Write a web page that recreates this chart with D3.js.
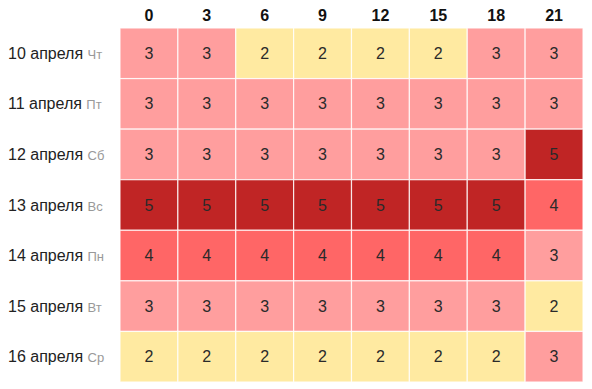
<!DOCTYPE html>
<html>
<head>
<meta charset="utf-8">
<script src="https://cdn.jsdelivr.net/npm/d3@7"></script>
<style>
  body { margin: 0; background: #fff; }
  text { font-family: "Liberation Sans", Arial, sans-serif; }
</style>
</head>
<body>
<svg id="chart" width="592" height="389"></svg>
<script>
// Données
const hours = ['0', '3', '6', '9', '12', '15', '18', '21']
const dates = ['10 апреля', '11 апреля', '12 апреля', '13 апреля', '14 апреля', '15 апреля', '16 апреля']
const weekdays = ['Чт', 'Пт', 'Сб', 'Вс', 'Пн', 'Вт', 'Ср']
const values = [
  [3, 3, 2, 2, 2, 2, 3, 3],
  [3, 3, 3, 3, 3, 3, 3, 3],
  [3, 3, 3, 3, 3, 3, 3, 5],
  [5, 5, 5, 5, 5, 5, 5, 4],
  [4, 4, 4, 4, 4, 4, 4, 3],
  [3, 3, 3, 3, 3, 3, 3, 2],
  [2, 2, 2, 2, 2, 2, 2, 3]
]
const levels = [2, 3, 4, 5]
const levelColors = ['#ffeaa1', '#ff9e9e', '#ff6666', '#c02525']

const svg = d3.select('#chart')

const x = d3.scaleBand().domain(hours).range([120, 583])
const y = d3.scaleBand().domain(dates).range([28, 382])
const color = d3.scaleOrdinal().domain(levels).range(levelColors)

//Cellules
const cells = []
values.forEach((row, i) => row.forEach((v, j) => cells.push({ date: dates[i], hour: hours[j], v })))

const g = svg.append('g')
g.selectAll('rect')
  .data(cells)
  .enter()
  .append('rect')
  .attr('x', d => x(d.hour))
  .attr('y', d => y(d.date))
  .attr('width', x.bandwidth())
  .attr('height', y.bandwidth())
  .attr('fill', d => color(d.v))
  .attr('stroke', '#fff')
  .attr('stroke-opacity', 0.8)
  .attr('stroke-width', 1.2)

g.selectAll('text.val')
  .data(cells)
  .enter()
  .append('text')
  .attr('class', 'val')
  .attr('x', d => x(d.hour) + x.bandwidth() / 2)
  .attr('y', d => y(d.date) + y.bandwidth() / 2)
  .attr('dy', '0.35em')
  .attr('text-anchor', 'middle')
  .attr('font-size', 16)
  .attr('fill', '#2a2a2a')
  .text(d => d.v)

//Titres des colonnes
svg.selectAll('text.hour')
  .data(hours)
  .enter()
  .append('text')
  .attr('class', 'hour')
  .attr('x', d => x(d) + x.bandwidth() / 2)
  .attr('y', 21)
  .attr('text-anchor', 'middle')
  .attr('font-size', 16)
  .attr('font-weight', 'bold')
  .attr('fill', '#111')
  .text(d => d)

//Étiquettes des lignes
const labels = svg.selectAll('text.date')
  .data(dates)
  .enter()
  .append('text')
  .attr('class', 'date')
  .attr('x', 8)
  .attr('y', d => y(d) + y.bandwidth() / 2)
  .attr('dy', '0.35em')
  .attr('font-size', 16)
  .attr('fill', '#222')

labels.append('tspan').text(d => d + ' ')
labels.append('tspan')
  .attr('font-size', 13)
  .attr('fill', '#999')
  .text((d, i) => weekdays[i])
</script>
</body>
</html>
